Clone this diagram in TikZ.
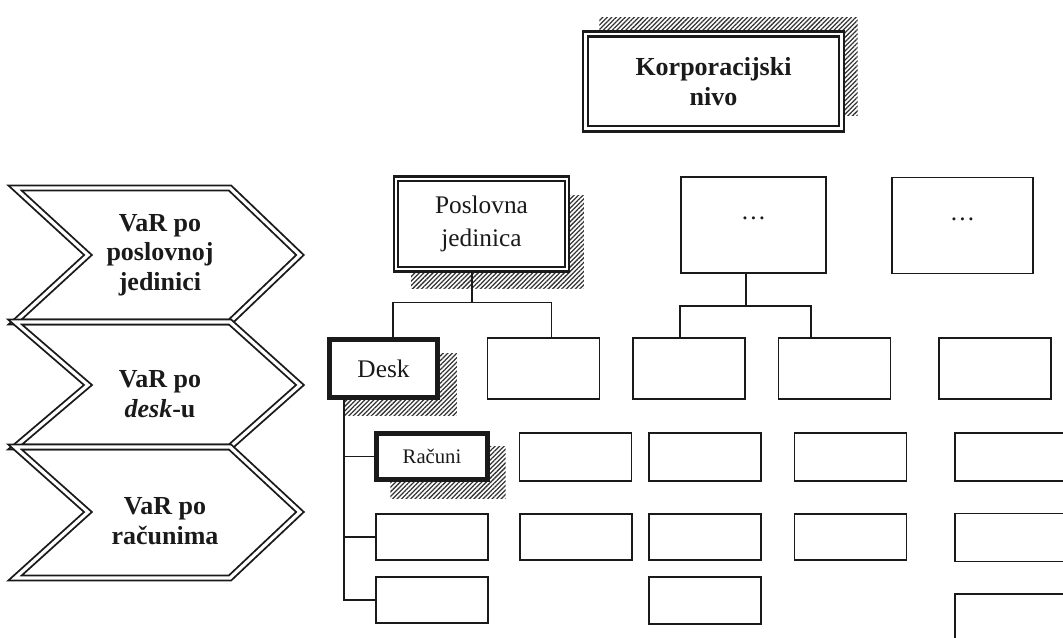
\documentclass[tikz,border=0pt]{standalone}
\usepackage{fontspec}
\setmainfont{Liberation Serif}
\usepackage{tikz}
\usepackage{xcolor}
\usetikzlibrary{positioning,calc,patterns.meta,backgrounds}
\definecolor{Ink}{HTML}{1A1A1A}
\definecolor{Hatch}{HTML}{333333}
\tikzset{
  cell/.style={draw=Ink,fill=white,line width=1.4pt,inner sep=0pt,minimum width=84pt,minimum height=36pt,align=center,font=\fontsize{19}{25}\selectfont,text=Ink},
  rowcell/.style={cell,minimum height=46pt},
  unitcell/.style={cell,minimum width=109pt,minimum height=72pt},
  heavy/.style={line width=3.6pt},
  dbl/.style={double=white,double distance=1.7pt,line width=1.6pt},
  chev/.style={draw=Ink,double=white,double distance=2.4pt,line width=1.4pt,line join=miter},
  chevtext/.style={align=center,font=\bfseries\fontsize{19.5}{22}\selectfont,text=Ink},
  hatch/.style={pattern={Lines[angle=45,distance=2.4pt,line width=0.95pt]},pattern color=Hatch},
  link/.style={draw=Ink,line width=1.3pt}
}

\begin{document}
\begin{tikzpicture}[x=0.75pt,y=-0.75pt]
  \useasboundingbox (0,0) rectangle (1063,638);
  \clip (0,0) rectangle (1063,638);

  % levels on the left
  \draw[chev] (15,188) -- (230,188) -- (300,255) -- (230,322) -- (15,322) -- (88,255) -- cycle;
  \draw[chev] (15,322) -- (230,322) -- (300,385) -- (230,447) -- (15,447) -- (88,385) -- cycle;
  \draw[chev] (15,447) -- (230,447) -- (300,512) -- (230,578) -- (15,578) -- (88,512) -- cycle;
  \node[chevtext] (varunit) at (160,255) {VaR po\\poslovnoj\\jedinici};
  \node[chevtext] (vardesk) at (160,394) {VaR po\\\textit{desk}-u};
  \node[chevtext] (varacc) at (165,521) {VaR po\\računima};

  % hierarchy
  \node[cell,dbl,line width=1.8pt,double distance=2pt,minimum width=192pt,minimum height=71pt,font=\bfseries\fontsize{19.5}{22}\selectfont] (corp) at (713.5,81.5) {Korporacijski\\nivo};

  \node[unitcell,dbl,minimum width=128pt,minimum height=68pt] (unit) at (481.5,224) {Poslovna\\jedinica};
  \node[unitcell] (unit2) at (753.5,225) {\raisebox{10pt}{\ldots}};
  \node[unitcell,minimum width=106pt] (unit3) at (962.5,225.5) {\raisebox{10pt}{\ldots}};

  \node[rowcell,heavy,minimum width=81pt,minimum height=43pt] (desk) at (383.5,368.5) {Desk};
  \node[rowcell] (desk2) at (543.5,368.5) {};
  \node[rowcell] (desk3) at (689,368.5) {};
  \node[rowcell] (desk4) at (834.5,368.5) {};
  \node[rowcell] (desk5) at (995,368.5) {};

  \node[cell,heavy,minimum width=83pt,minimum height=35pt,font=\fontsize{15.5}{18}\selectfont] (acc) at (432,456.5) {Računi};
  \node[cell] (acc2) at (575.5,457) {};
  \node[cell] (acc3) at (705,457) {};
  \node[cell] (acc4) at (850.5,457) {};
  \node[cell] (acc5) at (1011,457) {};

  \node[cell,minimum height=35pt] (accb1) at (432,537) {};
  \node[cell,minimum height=35pt] (accb2) at (576,537) {};
  \node[cell,minimum height=35pt] (accb3) at (705,537) {};
  \node[cell,minimum height=35pt] (accb4) at (850.5,537) {};
  \node[cell] (accb5) at (1011,537.5) {};

  \node[cell,minimum height=35pt] (accc1) at (432,600) {};
  \node[cell,minimum height=35pt] (accc3) at (705,600.5) {};
  \node[cell] (accc5) at (1011,618) {};

  % connectors
  \draw[link] ([xshift=-7pt]unit.south) -- ++(0,32) -| ([xshift=7pt]desk.north);
  \draw[link] ([xshift=-7pt]unit.south) -- ++(0,32) -| ([xshift=6pt]desk2.north);
  \draw[link] ([xshift=-5.6pt]unit2.south) -- ++(0,32) -| ([xshift=-6.7pt]desk3.north);
  \draw[link] ([xshift=-5.6pt]unit2.south) -- ++(0,32) -| ([xshift=-17.6pt]desk4.north);

  \coordinate (trunk) at ([xshift=-29.6pt]desk.south);
  \draw[link] (trunk) |- (accc1.west);
  \draw[link] (trunk |- acc.west) -- (acc.west);
  \draw[link] (trunk |- accb1.west) -- (accb1.west);

  % hatched shadows
  \begin{scope}[on background layer]
    \path[hatch] ([shift={(15,-15)}]corp.south west) rectangle ([shift={(15,-15)}]corp.north east);
    \path[hatch] ([shift={(16,18)}]unit.south west) rectangle ([shift={(16,18)}]unit.north east);
    \path[hatch] ([shift={(17,16)}]desk.south west) rectangle ([shift={(17,16)}]desk.north east);
    \path[hatch] ([shift={(16,16)}]acc.south west) rectangle ([shift={(16,16)}]acc.north east);
  \end{scope}
\end{tikzpicture}
\end{document}
